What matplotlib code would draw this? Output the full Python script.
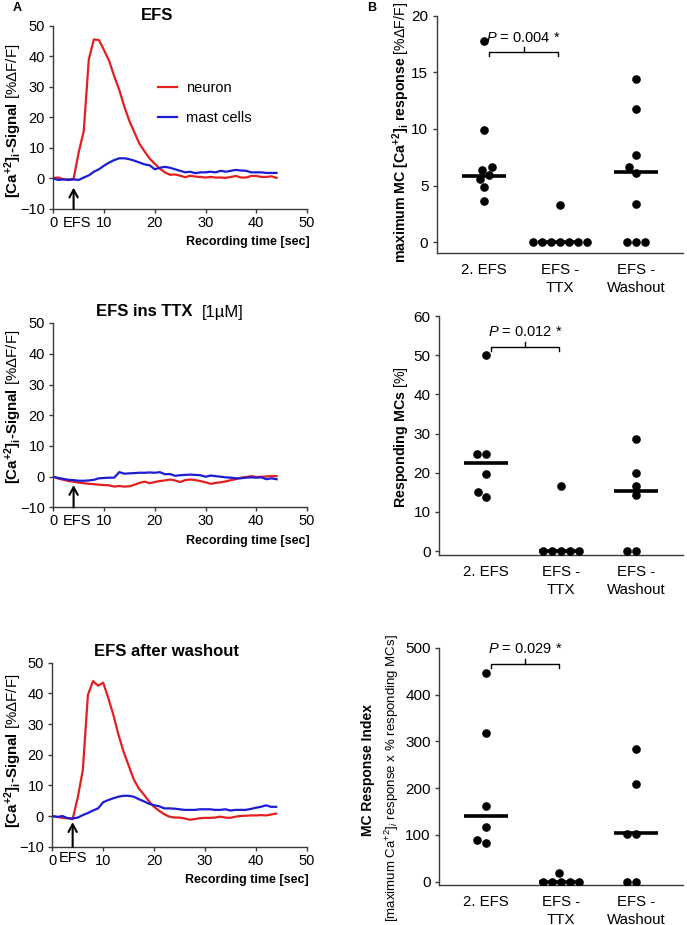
import matplotlib.pyplot as plt
import numpy as np
import pandas as pd
import seaborn as sns

plt.rcParams['font.family'] = ['Liberation Sans', 'DejaVu Sans']
plt.rcParams['mathtext.fontset'] = 'custom'
plt.rcParams['mathtext.rm'] = 'Liberation Sans'
plt.rcParams['mathtext.it'] = 'Liberation Sans:italic'
plt.rcParams['mathtext.bf'] = 'Liberation Sans:bold'

# ── A: [Ca2+]i traces, one sample per second (0..44 s) ──
time_s = np.arange(45)

efs_neuron = [0.2, 0.3, -0.3, -0.3, -0.2, 8.5, 15.5, 39.0, 45.5, 45.3,
              42.0, 38.5, 33.5, 29.0, 23.5, 18.8, 15.0, 11.3, 8.8, 6.5,
              4.8, 3.2, 2.0, 1.2, 1.3, 0.9, 0.4, 0.9, 0.6, 0.5,
              0.3, 0.5, 0.3, 0.3, 0.2, 0.5, 0.8, 0.3, 0.3, 0.8,
              0.8, 0.5, 0.5, 0.7, 0.2]
efs_mast = [0.0, -0.5, -0.3, -0.5, -0.3, -0.5, 0.3, 1.0, 2.2, 3.0,
            4.2, 5.2, 6.0, 6.6, 6.6, 6.3, 5.8, 5.2, 4.6, 4.3,
            3.0, 3.5, 3.8, 3.5, 3.0, 2.5, 2.0, 2.2, 1.7, 2.0,
            2.0, 2.2, 2.0, 2.5, 2.2, 2.5, 2.8, 2.6, 2.5, 2.0,
            2.0, 2.0, 1.8, 1.8, 1.8]

ttx_neuron = [0.0, -0.6, -1.0, -1.4, -1.6, -1.9, -2.1, -2.3, -2.4, -2.6,
              -2.7, -2.8, -3.2, -3.0, -3.2, -3.1, -2.6, -2.0, -1.6, -2.1,
              -1.7, -1.4, -1.2, -0.9, -1.2, -1.7, -1.1, -0.9, -1.1, -1.4,
              -1.8, -2.3, -2.0, -1.8, -1.5, -1.1, -0.8, -0.3, -0.1, 0.2,
              -0.1, 0.0, 0.1, 0.2, 0.2]
ttx_mast = [0.0, -0.4, -0.7, -1.0, -1.1, -1.3, -1.3, -1.2, -1.0, -0.5,
            -0.4, -0.3, -0.3, 1.5, 1.0, 1.1, 1.2, 1.3, 1.3, 1.4,
            1.3, 1.5, 0.8, 0.9, 0.3, 0.5, 0.6, 0.7, 0.6, 0.5,
            0.0, 0.4, 0.2, 0.0, -0.2, -0.3, -0.5, -0.5, -0.3, -0.2,
            -0.3, -0.2, -0.8, -0.5, -0.8]

wash_neuron = [0.0, -0.3, -0.6, -0.7, -1.0, 6.0, 15.0, 39.5, 44.0, 42.5,
               43.5, 38.5, 33.0, 26.5, 21.0, 16.5, 12.0, 9.0, 7.0, 4.8,
               3.0, 1.7, 0.6, -0.2, -0.5, -0.5, -0.8, -1.2, -1.0, -0.7,
               -0.6, -0.6, -0.5, -0.2, -0.5, -0.6, -0.2, 0.0, 0.1, 0.2,
               0.2, 0.3, 0.2, 0.5, 0.8]
wash_mast = [0.0, -0.3, 0.0, -0.7, -0.8, -0.5, 0.3, 1.0, 1.8, 2.5,
             4.5, 5.2, 5.8, 6.3, 6.6, 6.6, 6.3, 5.5, 4.8, 4.0,
             3.5, 3.2, 2.5, 2.5, 2.4, 2.2, 2.0, 2.0, 2.0, 2.2,
             2.2, 2.2, 2.0, 2.0, 2.2, 1.8, 2.0, 2.0, 2.0, 2.3,
             2.7, 3.0, 3.5, 3.0, 3.0]

efs_time = 4  # stimulation onset [s]

# ── B: per-preparation values ──
groups = ['2. EFS', 'EFS -\nTTX', 'EFS -\nWashout']

max_resp = [[17.8, 9.9, 6.6, 6.4, 5.9, 5.6, 4.9, 3.6],
            [3.3, 0, 0, 0, 0, 0, 0, 0],
            [14.4, 11.8, 7.7, 6.6, 6.1, 3.4, 0, 0, 0]]
max_resp_med = [5.85, 0, 6.2]

resp_pct = [[50, 24.7, 24.7, 19.6, 15.0, 13.9],
            [16.6, 0, 0, 0, 0, 0],
            [28.5, 20.0, 16.7, 14.3, 0, 0]]
resp_pct_med = [22.5, 0, 15.4]

resp_idx = [[446, 317, 162, 117, 89, 82],
            [18, 0, 0, 0, 0, 0],
            [283, 208, 103, 103, 0, 0]]
resp_idx_med = [140, 0, 105]

p_texts = ['0.004', '0.012', '0.029']
bracket_y = [16.8, 52.2, 466]

# ── layout helpers (pixel boxes in a 687x925 canvas) ──
W, H = 687, 925


def px_box(l, t, r, b):
    return [l / W, 1 - b / H, (r - l) / W, (b - t) / H]


def fpos(x, y):
    return x / W, 1 - y / H


c_red = '#e3201f'
c_blue = '#1c1cd4'
axis_c = '#3a3a3a'

fig = plt.figure(figsize=(6.87, 9.25), dpi=100)

# ── A panels ──
a_boxes = [(53.3, 25.7, 307, 209), (53.3, 323, 307, 507.5), (52.3, 662.7, 306.7, 846.7)]
a_traces = [(efs_neuron, efs_mast), (ttx_neuron, ttx_mast), (wash_neuron, wash_mast)]
arrow_tip = [-3.0, -2.7, -2.0]
efs_label_x = [4.7, 4.7, 4.0]
efs_label_dy = [-5, -5, -3]
a_axes = []
for i, (bx, (neu, mast)) in enumerate(zip(a_boxes, a_traces)):
    ax = fig.add_axes(px_box(*bx))
    ax.plot(time_s, neu, color=c_red, lw=1.6, label='neuron')
    ax.plot(time_s, mast, color=c_blue, lw=1.6, label='mast cells')
    ax.set_xlim(0, 50)
    ax.set_ylim(-10, 50)
    ax.set_xticks(np.arange(0, 51, 10))
    ax.set_yticks(np.arange(-10, 51, 10))
    for s in ['top', 'right']:
        ax.spines[s].set_visible(False)
    for s in ['left', 'bottom']:
        ax.spines[s].set_color(axis_c)
        ax.spines[s].set_linewidth(1.0)
    ax.tick_params(axis='both', direction='out', length=3, width=1.0,
                   color=axis_c, labelsize=10.5)
    ax.tick_params(axis='x', pad=2)
    ax.tick_params(axis='y', pad=3)
    ax.annotate('', xy=(efs_time, arrow_tip[i]), xytext=(efs_time, -10),
                arrowprops=dict(arrowstyle='->,head_length=0.55,head_width=0.3',
                                lw=1.5, color='black', shrinkA=0, shrinkB=0),
                annotation_clip=False)
    ax.annotate('EFS', xy=(efs_label_x[i], 0), xycoords=('data', 'axes fraction'),
                xytext=(0, efs_label_dy[i]), textcoords='offset points',
                ha='center', va='top', fontsize=10.5)
    ax.text(1.01, -0.18, 'Recording time [sec]', transform=ax.transAxes,
            ha='right', va='center', fontsize=9, fontweight='bold')
    a_axes.append(ax)

a_axes[0].legend(loc='center left', bbox_to_anchor=(0.413, 0.578), frameon=False,
                 fontsize=10.5, handlelength=1.3, handletextpad=0.6,
                 labelspacing=1.1, borderpad=0, borderaxespad=0)

ylab_a = r'[Ca$^{\mathbf{+2}}$]$_{\mathbf{i}}$-Signal $\mathrm{[\%\Delta F/F]}$'
for yc in [121, 407, 751]:
    fig.text(*fpos(13, yc), ylab_a, rotation=90, ha='center', va='center',
             fontsize=10.8, fontweight='bold')

fig.text(*fpos(157, 15), 'EFS', ha='center', va='center', fontsize=12, fontweight='bold')
fig.text(*fpos(192, 312), 'EFS ins TTX', ha='right', va='center', fontsize=12,
         fontweight='bold')
fig.text(*fpos(202, 312), '[1µM]', ha='left', va='center', fontsize=12)
fig.text(*fpos(166, 652), 'EFS after washout', ha='center', va='center',
         fontsize=12, fontweight='bold')

fig.text(*fpos(17, 8), 'A', ha='center', va='center', fontsize=9, fontweight='bold')
fig.text(*fpos(372, 8), 'B', ha='center', va='center', fontsize=9, fontweight='bold')

# ── B panels ──
b_boxes = [(436.7, 15.7, 683, 253), (439, 316, 683, 555), (439, 647.7, 683, 885)]
b_data = [max_resp, resp_pct, resp_idx]
b_meds = [max_resp_med, resp_pct_med, resp_idx_med]
b_ylim = [(-0.95, 20), (-1.0, 60), (-7, 500)]
b_yticks = [np.arange(0, 21, 5), np.arange(0, 61, 10), np.arange(0, 501, 100)]

for bx, vals, meds, yl, yt, by, pt in zip(b_boxes, b_data, b_meds, b_ylim,
                                          b_yticks, bracket_y, p_texts):
    ax = fig.add_axes(px_box(*bx))
    df = pd.DataFrame({'group': [g for g, v in zip(groups, vals) for _ in v],
                       'value': [x for v in vals for x in v]})
    sns.swarmplot(data=df, x='group', y='value', order=groups, color='black',
                  size=6.2, ax=ax, zorder=3)
    for j, m in enumerate(meds):
        ax.hlines(m, j - 0.29, j + 0.29, color='black', lw=2.6, zorder=4)
    rng = yl[1] - yl[0]
    d = 0.019 * rng
    x0, x1 = 0.07, 0.98
    xm = (x0 + x1) / 2
    ax.plot([x0, x0, x1, x1], [by - d, by, by, by - d], color='black', lw=1.0)
    ax.plot([xm, xm], [by, by + d], color='black', lw=1.0)
    ax.text(xm, by + 0.06 * rng, r'$P$ = ' + pt + ' *', ha='center', va='center',
            fontsize=10.5)
    ax.set_xlim(-0.62, 2.62)
    ax.set_ylim(*yl)
    ax.set_yticks(yt)
    ax.set_xticks(range(3))
    ax.set_xticklabels(groups, linespacing=1.35)
    ax.set_xlabel('')
    ax.set_ylabel('')
    for s in ['top', 'right']:
        ax.spines[s].set_visible(False)
    for s in ['left', 'bottom']:
        ax.spines[s].set_color(axis_c)
        ax.spines[s].set_linewidth(1.0)
    ax.tick_params(axis='y', direction='out', length=3, width=1.0, color=axis_c,
                   labelsize=11, pad=3)
    ax.tick_params(axis='x', length=0, labelsize=10.8, pad=7)

fig.text(*fpos(401, 132),
         r'maximum MC [Ca$^{\mathbf{+2}}$]$_{\mathbf{i}}$ response $\mathrm{[\%\Delta F/F]}$',
         rotation=90, ha='center', va='center', fontsize=10.2, fontweight='bold')
fig.text(*fpos(401.5, 437), r'Responding MCs $\mathrm{[\%]}$', rotation=90,
         ha='center', va='center', fontsize=10.3, fontweight='bold')
fig.text(*fpos(368, 770), 'MC Response Index', rotation=90, ha='center',
         va='center', fontsize=10, fontweight='bold')
fig.text(*fpos(392, 778), r'[maximum Ca$^{+2}$]$_i$ response x % responding MCs]',
         rotation=90, ha='center', va='center', fontsize=9.5)

fig.savefig('out.png', dpi=100)
